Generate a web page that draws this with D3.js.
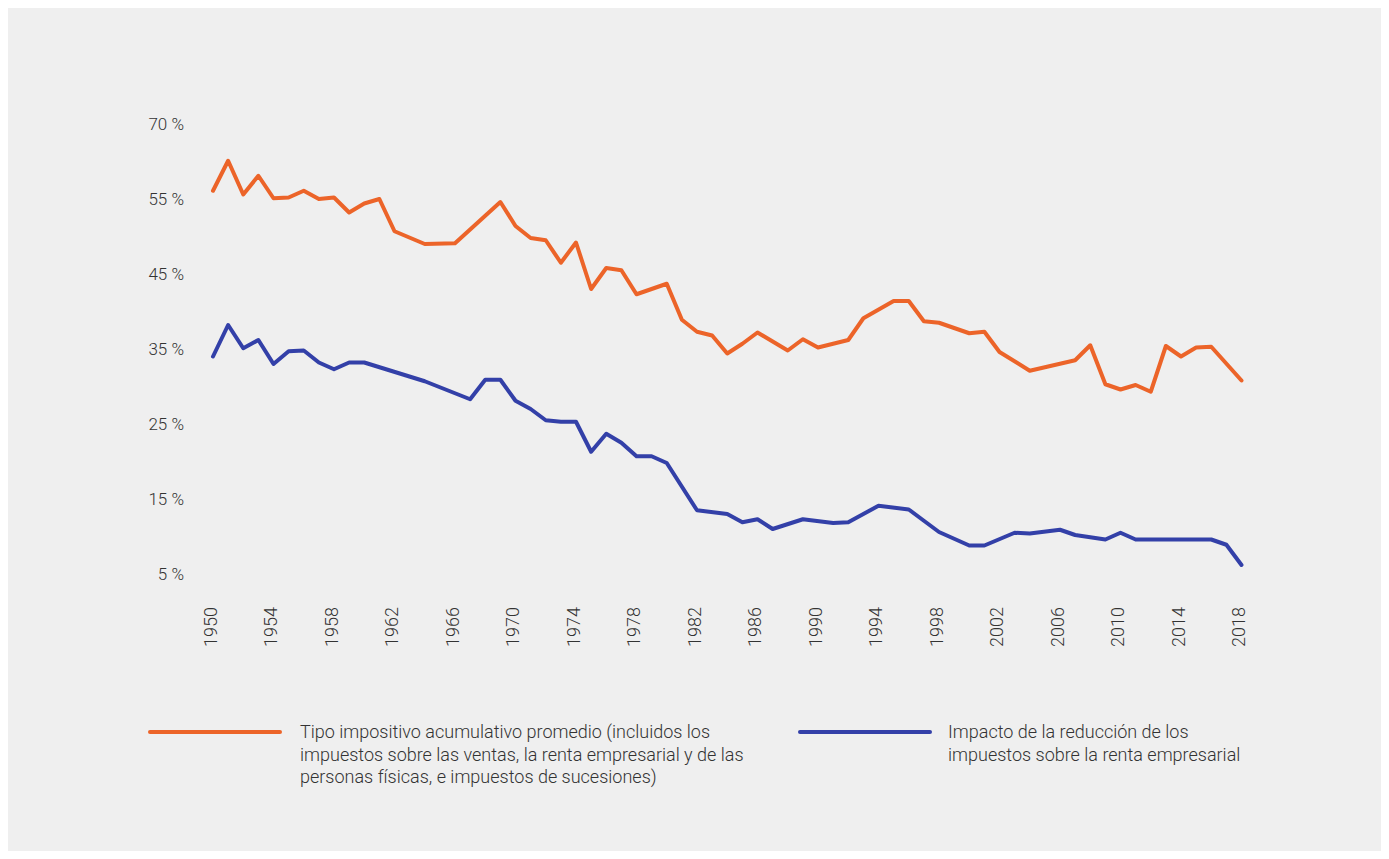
<!DOCTYPE html>
<html>
<head>
<meta charset="utf-8">
<script src="https://cdn.jsdelivr.net/npm/d3@7"></script>
<style>
  body { margin: 0; background: #ffffff; }
  svg { display: block; font-family: Roboto, "Noto Sans", sans-serif; font-weight: 300; }
</style>
</head>
<body>
<svg id="chart"></svg>
<script>
// Tipo impositivo acumulativo promedio
const orangeYears = [1950, 1951, 1952, 1953, 1954, 1955, 1956, 1957, 1958, 1959, 1960, 1961, 1962, 1964, 1966,
  1969, 1970, 1971, 1972, 1973, 1974, 1975, 1976, 1977, 1978, 1980, 1981, 1982, 1983, 1984, 1985, 1986,
  1988, 1989, 1990, 1992, 1993, 1995, 1996, 1997, 1998, 2000, 2001, 2002, 2004, 2007, 2008, 2009, 2010,
  2011, 2012, 2013, 2014, 2015, 2016, 2018]
const orangeValues = [56.1, 60.1, 55.6, 58.1, 55.1, 55.2, 56.1, 55.0, 55.2, 53.2, 54.4, 55.0, 50.7, 49.0, 49.1,
  54.6, 51.4, 49.8, 49.5, 46.5, 49.2, 43.0, 45.8, 45.5, 42.3, 43.7, 38.9, 37.3, 36.8, 34.4, 35.7, 37.2,
  34.8, 36.3, 35.2, 36.2, 39.1, 41.4, 41.4, 38.7, 38.5, 37.1, 37.3, 34.6, 32.1, 33.5, 35.5, 30.3, 29.6,
  30.2, 29.3, 35.4, 34.0, 35.2, 35.3, 30.8]

// Impacto de la reduccion de los impuestos sobre la renta empresarial
const blueYears = [1950, 1951, 1952, 1953, 1954, 1955, 1956, 1957, 1958, 1959, 1960, 1964, 1967, 1968, 1969,
  1970, 1971, 1972, 1973, 1974, 1975, 1976, 1977, 1978, 1979, 1980, 1982, 1984, 1985, 1986, 1987, 1989,
  1991, 1992, 1994, 1996, 1997, 1998, 2000, 2001, 2003, 2004, 2006, 2007, 2009, 2010, 2011, 2012, 2013,
  2014, 2015, 2016, 2017, 2018]
const blueValues = [34.0, 38.2, 35.1, 36.2, 33.0, 34.7, 34.8, 33.2, 32.3, 33.2, 33.2, 30.7, 28.3, 30.9, 30.9,
  28.1, 27.0, 25.5, 25.3, 25.3, 21.3, 23.7, 22.5, 20.7, 20.7, 19.8, 13.5, 13.0, 11.9, 12.3, 11.0, 12.3,
  11.8, 11.9, 14.1, 13.6, 12.1, 10.6, 8.8, 8.8, 10.5, 10.4, 10.9, 10.2, 9.6, 10.5, 9.6, 9.6, 9.6,
  9.6, 9.6, 9.6, 8.9, 6.2]

// axis ticks (the top label reads 70 % in the original although it sits one step above 55 %)
const yTickValues = [5, 15, 25, 35, 45, 55, 65]
const yTickLabels = ["5 %", "15 %", "25 %", "35 %", "45 %", "55 %", "70 %"]
const xTickValues = [1950, 1954, 1958, 1962, 1966, 1970, 1974, 1978, 1982, 1986, 1990, 1994, 1998, 2002, 2006, 2010, 2014, 2018]

const legendOrange = ["Tipo impositivo acumulativo promedio (incluidos los",
  "impuestos sobre las ventas, la renta empresarial y de las",
  "personas físicas, e impuestos de sucesiones)"]
const legendBlue = ["Impacto de la reducción de los",
  "impuestos sobre la renta empresarial"]

const width = 1389, height = 859
const orange = "#ec6429", blue = "#3340a8", textColor = "#333333"

const svg = d3.select("#chart")
  .attr("width", width)
  .attr("height", height)

// grey panel
svg.append("rect")
  .attr("x", 8).attr("y", 8)
  .attr("width", 1373).attr("height", 843)
  .attr("fill", "#efefef")

const x = d3.scaleLinear()
  .domain([1950, 2018])
  .range([213, 1241.5])

const y = d3.scaleLinear()
  .domain([5, 65])
  .range([574, 124])

// y axis, labels only
const yAxis = d3.axisLeft(y)
  .tickValues(yTickValues)
  .tickFormat((d, i) => yTickLabels[i])
  .tickSize(0)
  .tickPadding(0)

svg.append("g")
  .attr("transform", "translate(184,0)")
  .call(yAxis)
  .call(g => g.select(".domain").remove())
  .selectAll("text")
  .attr("font-size", 17)
  .attr("font-family", "Roboto, sans-serif")
  .attr("font-weight", 300)
  .attr("fill", textColor)

// x axis, rotated year labels
const xAxis = d3.axisBottom(x)
  .tickValues(xTickValues)
  .tickFormat(d3.format("d"))
  .tickSize(0)
  .tickPadding(0)

svg.append("g")
  .attr("transform", "translate(-3,607)")
  .call(xAxis)
  .call(g => g.select(".domain").remove())
  .selectAll("text")
  .attr("font-size", 18)
  .attr("font-family", "Roboto, sans-serif")
  .attr("font-weight", 300)
  .attr("fill", textColor)
  .attr("transform", "rotate(-90)")
  .attr("text-anchor", "end")
  .attr("x", 0)
  .attr("y", 0)
  .attr("dy", "0.35em")

const line = d3.line()
  .x(d => x(d[0]))
  .y(d => y(d[1]))

const series = [
  { color: orange, data: d3.zip(orangeYears, orangeValues) },
  { color: blue, data: d3.zip(blueYears, blueValues) }
]

svg.append("g")
  .selectAll("path")
  .data(series)
  .enter()
  .append("path")
  .attr("d", d => line(d.data))
  .attr("fill", "none")
  .attr("stroke", d => d.color)
  .attr("stroke-width", 4)
  .attr("stroke-linejoin", "round")
  .attr("stroke-linecap", "round")

// legend
const legendItems = [
  { color: orange, lines: legendOrange, x0: 150, x1: 280, tx: 300 },
  { color: blue, lines: legendBlue, x0: 800, x1: 930, tx: 948 }
]

const legend = svg.append("g")
  .selectAll("g")
  .data(legendItems)
  .enter()
  .append("g")

legend.append("line")
  .attr("x1", d => d.x0)
  .attr("x2", d => d.x1)
  .attr("y1", 732)
  .attr("y2", 732)
  .attr("stroke", d => d.color)
  .attr("stroke-width", 4)
  .attr("stroke-linecap", "round")

legend.append("text")
  .attr("font-size", 18)
  .attr("fill", textColor)
  .selectAll("tspan")
  .data(d => d.lines.map(t => ({ t: t, x: d.tx })))
  .enter()
  .append("tspan")
  .attr("x", d => d.x)
  .attr("y", (d, i) => 738 + i * 22.5)
  .text(d => d.t)
</script>
</body>
</html>
